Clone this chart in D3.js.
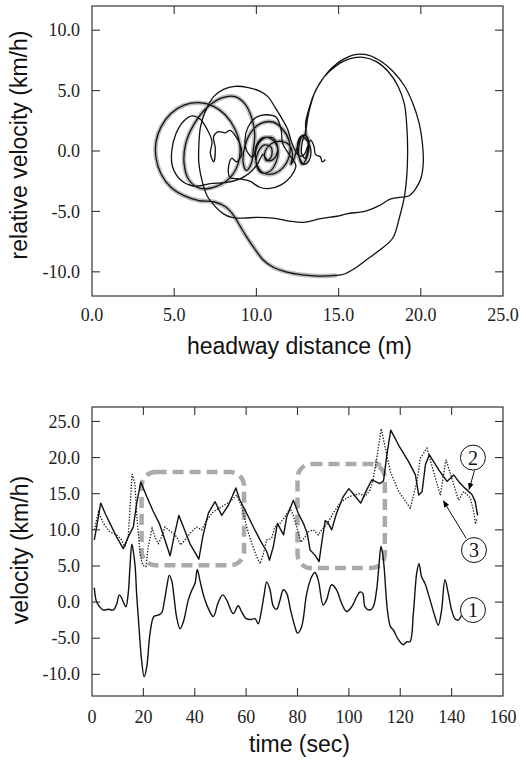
<!DOCTYPE html>
<html><head><meta charset="utf-8">
<script src="https://cdn.jsdelivr.net/npm/d3@7"></script>
<style>body{margin:0;background:#fff}</style>
</head><body><svg id="c" width="526" height="760"></svg>
<script>
// ---------------- DATA ----------------
const topXTicks = [0, 5, 10, 15, 20, 25];
const topYTicks = [-10, -5, 0, 5, 10];
const botXTicks = [0, 20, 40, 60, 80, 100, 120, 140, 160];
const botYTicks = [-10, -5, 0, 5, 10, 15, 20, 25];

// phase trajectory [headway distance (m), relative velocity (km/h)]
const phaseStart = [[13.0,1.0],[13.3,0.2],[13.2,-0.8],[12.9,-1.1],[12.6,-0.5],[12.5,0.5],[12.7,1.2],[13.0,1.3],[13.15,0.4],[12.95,-0.6],[12.75,-0.2],[12.8,0.8],[13.0,1.6],[13.1,2.6],[13.3,3.8],[13.6,5.0],[14.1,6.1],[14.8,7.0],[15.6,7.6],[16.5,7.75],[17.3,7.4],[18.0,6.6],[18.6,5.4],[19.0,3.9],[19.15,2.0],[19.2,0.0],[19.15,-2.0],[19.0,-3.8],[18.7,-5.5],[18.3,-7.2],[17.5,-8.2],[16.7,-9.0],[16.0,-9.7],[15.3,-10.2],[14.8,-10.3]];
const phaseHalo1 = [[14.8,-10.3],[13.8,-10.35],[12.8,-10.25],[11.8,-10.0],[11.0,-9.6],[10.4,-9.0],[9.9,-8.1],[9.4,-7.1],[9.0,-6.2],[8.6,-5.3],[8.1,-4.6],[7.4,-4.2],[6.5,-4.1],[5.6,-3.7],[4.8,-3.0],[4.2,-1.9],[3.9,-0.6],[3.9,0.8],[4.2,2.0],[4.8,3.1],[5.6,3.8],[6.5,4.0],[7.4,3.7],[8.1,3.0],[8.7,1.8],[9.0,0.4],[8.9,-1.0],[8.4,-2.2],[7.6,-2.9],[6.6,-3.1],[5.9,-2.4],[5.6,-1.0],[5.7,0.6],[6.2,2.2],[7.0,3.6],[7.9,4.4],[8.7,4.5],[9.3,3.9],[9.7,2.8],[9.9,1.4],[9.8,0.0],[9.7,-1.0],[9.4,-1.6],[9.2,-1.0],[9.3,0.4],[9.7,1.6],[10.3,2.3],[11.0,2.4],[11.6,1.8],[12.0,0.8],[12.0,-0.4],[11.6,-1.4],[11.0,-1.9],[10.4,-1.8],[10.0,-1.0],[10.0,0.2],[10.4,1.0],[11.0,1.1],[11.3,0.3],[11.1,-0.6],[10.7,-0.8],[10.4,-0.3]];
const phaseMid = [[10.4,-0.3],[10.1,-1.0],[9.6,-1.8],[9.0,-2.3],[8.2,-2.6],[7.2,-2.7],[6.2,-2.9],[5.4,-2.4],[4.9,-1.3],[4.85,0.0],[5.1,1.4],[5.6,2.5],[6.1,2.9],[6.6,2.6],[7.0,1.8],[7.3,0.8],[7.2,-0.2],[7.4,-0.9],[7.5,0.2],[7.4,1.2],[7.7,1.6],[8.1,1.5],[8.4,1.7],[8.7,1.3],[9.0,0.6],[9.1,-0.3],[8.8,-0.9],[8.5,-0.6],[8.3,-1.4],[8.4,-2.2],[9.0,-2.3],[9.6,-2.5],[10.2,-3.0],[10.8,-3.1],[11.5,-2.8],[12.1,-2.1],[12.4,-1.2],[12.0,-0.3],[11.6,0.6],[11.5,1.8],[11.2,2.8],[10.6,3.0],[10.0,2.8],[9.5,2.0],[9.3,0.8],[9.5,-0.2],[9.8,-0.5]];
const phaseHalo2 = [[9.8,-0.5],[10.0,0.5],[10.4,1.1],[10.9,1.0],[11.3,0.2],[11.2,-0.9],[10.8,-1.7],[10.3,-1.8],[10.0,-1.1],[10.1,-0.1],[10.5,0.5],[10.9,0.3],[10.9,-0.5],[10.6,-0.8],[10.5,-0.2],[10.9,0.6],[11.5,0.8],[12.0,0.5],[12.2,-0.3],[12.1,-1.1],[12.3,-0.6],[12.5,0.4],[12.7,1.1],[13.0,1.3],[13.2,0.6],[13.1,-0.4],[12.8,-1.1],[12.6,-0.5],[12.6,0.5],[12.8,1.2],[13.0,1.0],[13.0,1.6]];
const phaseEnd = [[13.0,1.6],[13.0,2.4],[13.2,3.5],[13.5,4.7],[14.0,5.9],[14.6,6.9],[15.3,7.6],[16.1,8.0],[16.9,7.9],[17.6,7.4],[18.3,6.6],[19.0,5.4],[19.5,4.0],[19.9,2.3],[20.1,0.6],[20.15,-1.0],[20.0,-2.3],[19.7,-3.1],[19.3,-3.7],[18.6,-3.85],[18.1,-4.0],[17.5,-4.5],[16.7,-4.95],[15.5,-5.2],[14.9,-5.4],[13.9,-5.6],[12.85,-5.9],[12.0,-5.8],[11.0,-5.55],[10.0,-5.5],[9.2,-5.55],[8.5,-5.5],[8.0,-5.2],[7.5,-4.6],[7.0,-3.7],[6.7,-2.5],[6.5,-1.0],[6.5,0.5],[6.6,2.0],[6.9,3.3],[7.4,4.5],[8.0,5.1],[8.7,5.35],[9.5,5.25],[10.2,4.95],[10.7,4.5],[11.1,3.7],[11.5,2.8],[11.9,1.8],[12.1,0.9],[12.3,0.2],[12.6,-0.4],[12.9,-0.3],[13.1,0.3],[13.3,0.9],[13.5,0.4],[13.6,-0.3],[13.9,-0.5],[14.0,-0.9],[14.2,-0.7]];

// time series [time (sec), velocity (km/h)]
const series1 = [[0.9,2.0],[1.8,0.0],[3.1,-0.7],[4.4,-1.1],[6.4,-1.0],[8.3,-1.1],[9.6,-0.3],[10.6,1.0],[11.5,0.6],[12.2,0.0],[13.2,-0.65],[14.1,1.2],[14.8,5.0],[15.5,8.0],[16.1,7.0],[16.8,4.9],[17.4,1.0],[18.1,-2.5],[19.3,-8.0],[20.3,-10.35],[21.3,-9.0],[22.6,-4.3],[24.1,-2.0],[25.8,-1.8],[27.1,-1.5],[28.2,0.2],[29.1,2.1],[30.1,3.7],[31.0,3.0],[32.0,0.5],[32.9,-2.0],[34.3,-3.7],[35.6,-2.7],[37.5,0.3],[38.8,1.6],[40.1,2.6],[41.0,4.5],[42.0,3.0],[43.6,0.7],[45.3,-0.9],[47.2,-2.0],[49.2,0.0],[50.9,1.0],[52.4,0.3],[55.0,-1.6],[56.9,-0.5],[58.3,-1.4],[60.0,-2.3],[62.2,-2.4],[63.5,-2.3],[64.7,-3.0],[66.0,-1.1],[67.0,1.0],[68.0,2.8],[69.3,1.7],[70.6,-0.6],[71.9,-1.0],[73.2,0.3],[74.5,1.7],[75.8,1.2],[77.3,-1.1],[79.0,-3.4],[80.0,-4.3],[81.6,-3.4],[83.6,1.2],[85.5,3.5],[86.8,4.1],[88.1,3.0],[90.0,-0.4],[91.3,0.3],[93.3,2.4],[95.2,1.7],[97.2,-0.2],[99.1,-1.3],[101.1,-0.65],[103.0,0.7],[104.3,1.4],[105.4,1.2],[106.3,-0.65],[108.2,-1.1],[109.5,-0.65],[110.8,1.7],[111.7,5.0],[112.5,7.7],[113.1,6.8],[113.7,4.9],[115.0,-1.1],[116.2,-3.4],[117.4,-3.9],[118.6,-4.8],[119.9,-5.5],[121.2,-5.9],[122.5,-5.5],[123.8,-5.5],[125.1,-1.6],[126.4,4.0],[127.3,5.3],[128.3,3.5],[129.6,2.6],[131.6,0.3],[133.5,-2.0],[134.8,-3.2],[136.1,-1.1],[137.4,3.1],[138.7,1.2],[140.0,-1.1],[141.3,-2.3],[142.6,-2.5],[143.9,-1.8]];
const series2 = [[0.9,8.6],[1.8,10.4],[3.4,13.7],[5.1,12.3],[7.0,10.9],[9.6,9.0],[12.2,7.4],[14.1,9.0],[16.1,10.4],[17.4,13.7],[19.0,16.6],[21.3,14.6],[23.9,12.5],[26.2,10.9],[28.4,8.6],[30.4,6.4],[31.9,9.0],[33.8,12.0],[35.6,10.4],[38.1,8.1],[41.6,5.95],[43.1,9.0],[45.3,12.3],[47.9,13.9],[50.5,12.0],[53.1,13.4],[56.0,15.8],[57.6,14.1],[60.2,12.3],[62.8,10.4],[65.4,8.6],[68.0,7.0],[69.1,5.8],[70.6,7.7],[72.2,10.9],[73.2,10.2],[74.6,9.3],[75.8,11.8],[78.4,14.1],[80.3,12.3],[82.3,10.9],[83.8,9.5],[84.9,7.2],[86.8,6.5],[88.4,5.6],[89.6,8.6],[90.8,11.3],[92.0,10.9],[93.3,10.0],[95.2,12.3],[97.8,14.6],[100.0,15.7],[101.7,15.0],[104.6,13.7],[106.9,15.5],[108.9,16.9],[110.2,16.7],[112.1,16.4],[113.5,16.8],[114.8,20.4],[116.3,23.8],[119.4,21.7],[123.3,19.4],[125.9,17.6],[127.2,14.8],[128.5,15.3],[129.8,19.0],[131.3,20.4],[135.0,18.3],[138.2,16.7],[140.8,17.6],[142.7,16.7],[145.4,15.7],[147.9,14.9],[149.2,13.9],[150.1,12.0]];
const series3 = [[0.9,10.0],[2.5,12.5],[4.4,10.9],[7.0,9.7],[9.6,9.3],[11.5,8.6],[12.8,7.7],[14.1,9.0],[15.6,17.7],[16.7,16.4],[17.6,11.3],[18.7,6.7],[19.7,5.1],[21.0,4.9],[21.9,7.7],[23.4,10.2],[24.5,9.0],[25.8,8.1],[27.1,9.0],[28.4,10.4],[29.7,10.0],[31.7,9.5],[33.0,9.0],[34.5,7.9],[36.2,8.6],[38.1,9.5],[40.7,10.4],[42.7,10.0],[44.6,11.3],[47.2,12.5],[50.5,13.2],[53.7,13.9],[56.3,14.8],[58.3,13.2],[60.2,10.4],[62.2,8.1],[64.1,6.3],[65.4,5.3],[66.7,6.7],[68.0,8.6],[69.9,8.8],[71.2,10.4],[73.2,10.9],[75.1,11.8],[77.1,13.0],[78.4,12.0],[79.7,10.4],[81.3,8.3],[82.5,8.8],[84.2,9.7],[86.2,10.0],[88.1,9.3],[89.4,10.0],[91.3,10.7],[93.9,12.3],[96.5,13.7],[99.1,14.4],[101.7,14.8],[104.3,15.0],[106.3,14.6],[108.2,15.5],[109.3,16.7],[110.9,20.0],[112.6,24.0],[114.2,21.3],[116.2,18.0],[119.4,15.3],[123.9,13.0],[126.5,16.7],[127.8,19.9],[130.4,21.3],[133.0,18.0],[135.6,14.8],[137.8,19.7],[140.1,17.1],[142.7,14.1],[144.7,15.3],[147.3,14.4],[148.6,12.5],[149.3,10.8],[149.9,11.6]];

// highlighted time windows [t0, t1, v0, v1]
const highlightBoxes = [[19.3, 59.2, 5.1, 18.0], [80.0, 114.0, 4.7, 19.1]];
// labels for the curves: [label, time, velocity]
const curveLabels = [["2", 148.3, 20.0], ["3", 148.7, 7.2], ["1", 148.3, -1.1]];
// arrows from label circles [fromT, fromV, toT, toV]
const labelArrows = [[148.9, 18.2, 146.8, 15.6], [145.7, 8.8, 136.8, 14.0]];

// ---------------- DRAWING ----------------
const svg = d3.select('#c');
const serif = '"Liberation Serif","Times New Roman",Times,serif';
const sans = '"Liberation Sans",Arial,Helvetica,sans-serif';

const defs = svg.append('defs');
defs.append('filter').attr('id','soft').attr('x','-10%').attr('y','-10%').attr('width','120%').attr('height','120%')
  .append('feGaussianBlur').attr('stdDeviation', 0.6);
defs.append('marker').attr('id','ah').attr('viewBox','0 0 10 10').attr('refX',9).attr('refY',5)
  .attr('markerWidth',7).attr('markerHeight',7).attr('orient','auto').attr('markerUnits','userSpaceOnUse')
  .append('path').attr('d','M0,1 L10,5 L0,9 Z').attr('fill','#000');

function panel(x, y, xTicks, yTicks, xFmt, yFmt, xLabelBase, xTitle, xTitleY, yTitle, yTitleX, yTitleY) {
  const g = svg.append('g');
  const [x0, x1] = x.range(), [yb, yt] = y.range();
  const L = 8;
  xTicks.forEach(v => {
    if (v > x.domain()[0] && v < x.domain()[1]) {
      g.append('line').attr('x1', x(v)).attr('x2', x(v)).attr('y1', yb).attr('y2', yb - L).attr('stroke', '#333').attr('stroke-width', 1.1);
      g.append('line').attr('x1', x(v)).attr('x2', x(v)).attr('y1', yt).attr('y2', yt + L).attr('stroke', '#333').attr('stroke-width', 1.1);
    }
    g.append('text').attr('x', x(v)).attr('y', xLabelBase).attr('text-anchor', 'middle')
      .style('font-family', serif).attr('font-size', 18).attr('fill', '#222').text(xFmt(v));
  });
  yTicks.forEach(v => {
    g.append('line').attr('x1', x0).attr('x2', x0 + L).attr('y1', y(v)).attr('y2', y(v)).attr('stroke', '#333').attr('stroke-width', 1.1);
    g.append('line').attr('x1', x1).attr('x2', x1 - L).attr('y1', y(v)).attr('y2', y(v)).attr('stroke', '#333').attr('stroke-width', 1.1);
    g.append('text').attr('x', x0 - 12).attr('y', y(v)).attr('dy', '0.34em').attr('text-anchor', 'end')
      .style('font-family', serif).attr('font-size', 18).attr('fill', '#222').text(yFmt(v));
  });
  g.append('rect').attr('x', x0).attr('y', yt).attr('width', x1 - x0).attr('height', yb - yt)
    .attr('fill', 'none').attr('stroke', '#333').attr('stroke-width', 1.2);
  g.append('text').attr('x', (x0 + x1) / 2 + 2).attr('y', xTitleY).attr('text-anchor', 'middle')
    .style('font-family', sans).attr('font-size', 23).attr('fill', '#111').text(xTitle);
  g.append('text').attr('transform', `translate(${yTitleX},${yTitleY}) rotate(-90)`).attr('text-anchor', 'middle')
    .style('font-family', sans).attr('font-size', 23).attr('fill', '#111').text(yTitle);
}

// ---- top panel ----
const xT = d3.scaleLinear().domain([0, 25]).range([92, 503]);
const yT = d3.scaleLinear().domain([-12, 12]).range([296, 6]);
const pl = d3.line().x(d => xT(d[0])).y(d => yT(d[1])).curve(d3.curveCatmullRom.alpha(0.5));

[phaseHalo1, phaseHalo2].forEach(seg => {
  svg.append('path').attr('d', pl(seg)).attr('fill', 'none').attr('stroke', '#bdbdbd')
    .attr('stroke-width', 4.5).attr('stroke-linejoin', 'round').attr('stroke-linecap', 'round').attr('filter', 'url(#soft)');
});
const fullPath = [].concat(phaseStart, phaseHalo1.slice(1), phaseMid.slice(1), phaseHalo2.slice(1), phaseEnd.slice(1));
svg.append('path').attr('d', pl(fullPath)).attr('fill', 'none').attr('stroke', '#111')
  .attr('stroke-width', 1.3).attr('stroke-linejoin', 'round');

panel(xT, yT, topXTicks, topYTicks, v => v.toFixed(1), v => v.toFixed(1), 321,
  'headway distance (m)', 354, 'relative velocity (km/h)', 27, 145);

// ---- bottom panel ----
const xB = d3.scaleLinear().domain([0, 160]).range([92, 503]);
const yB = d3.scaleLinear().domain([-13, 27]).range([696, 407]);

highlightBoxes.forEach(b => {
  svg.append('rect').attr('x', xB(b[0])).attr('y', yB(b[3])).attr('width', xB(b[1]) - xB(b[0]))
    .attr('height', yB(b[2]) - yB(b[3])).attr('rx', 14).attr('ry', 14)
    .attr('fill', 'none').attr('stroke', '#aaaaaa').attr('stroke-width', 4.5).attr('stroke-dasharray', '11,6');
});
// small arrow tip on the second window's top edge
{
  const b = highlightBoxes[1];
  const tx = xB(b[1]) - 4, ty = yB(b[3]);
  svg.append('path').attr('d', `M${tx - 6},${ty - 5} L${tx + 1},${ty} L${tx - 6},${ty + 5} Z`).attr('fill', '#aaaaaa');
}

const sl = d3.line().x(d => xB(d[0])).y(d => yB(d[1]));
svg.append('path').attr('d', sl.curve(d3.curveCatmullRom.alpha(0.5))(series1)).attr('fill', 'none')
  .attr('stroke', '#111').attr('stroke-width', 1.4);
svg.append('path').attr('d', sl.curve(d3.curveLinear)(series3)).attr('fill', 'none')
  .attr('stroke', '#111').attr('stroke-width', 1.3).attr('stroke-dasharray', '1.3,1.6');
svg.append('path').attr('d', sl.curve(d3.curveLinear)(series2)).attr('fill', 'none')
  .attr('stroke', '#111').attr('stroke-width', 1.4).attr('stroke-linejoin', 'round');

labelArrows.forEach(a => {
  svg.append('line').attr('x1', xB(a[0])).attr('y1', yB(a[1])).attr('x2', xB(a[2])).attr('y2', yB(a[3]))
    .attr('stroke', '#111').attr('stroke-width', 1).attr('marker-end', 'url(#ah)');
});
curveLabels.forEach(c => {
  svg.append('circle').attr('cx', xB(c[1])).attr('cy', yB(c[2])).attr('r', 12.5)
    .attr('fill', '#fff').attr('stroke', '#111').attr('stroke-width', 1);
  svg.append('text').attr('x', xB(c[1])).attr('y', yB(c[2])).attr('dy', '0.35em').attr('text-anchor', 'middle')
    .style('font-family', serif).attr('font-size', 20).attr('fill', '#111').text(c[0]);
});

panel(xB, yB, botXTicks, botYTicks, v => String(v), v => v.toFixed(1), 723,
  'time (sec)', 752, 'velocity (km/h)', 28, 550);
</script></body></html>
